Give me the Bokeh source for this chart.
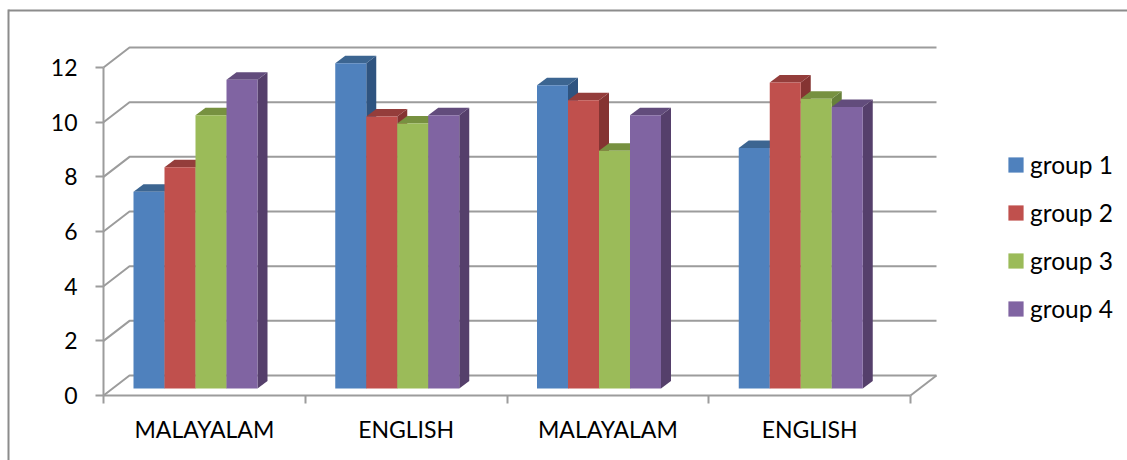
import numpy as np
from bokeh.embed import file_html
from bokeh.resources import INLINE
from bokeh.models import BoxAnnotation, FixedTicker, Legend, LegendItem, Range1d
from bokeh.plotting import figure

categories = ["MALAYALAM", "ENGLISH", "MALAYALAM", "ENGLISH"]
series_names = ["group 1", "group 2", "group 3", "group 4"]
group_1 = [7.2, 11.9, 11.1, 8.8]
group_2 = [8.1, 9.95, 10.55, 11.2]
group_3 = [10.0, 9.7, 8.7, 10.6]
group_4 = [11.3, 10.0, 10.0, 10.3]
series_values = [group_1, group_2, group_3, group_4]
y_ticks = [0, 2, 4, 6, 8, 10, 12]

front_colors = ["#4F81BD", "#C0504D", "#9BBB59", "#8064A2"]
top_colors = ["#3C6591", "#943D3B", "#779140", "#624C7C"]
side_colors = ["#2F5480", "#853432", "#67803A", "#553F6B"]

GRID = "#9C9C9C"
FRAME = "#8C8C8C"
FONT = "Lato"

# Pixel scale of the plot area: one category and one value unit
CAT_PX = 201.75
VAL_PX = 27.33

# Oblique projection used to fake the 3D look
wall_dx, wall_dy = 26 / CAT_PX, 20 / VAL_PX
bar_dx, bar_dy = 10 / CAT_PX, 7.5 / VAL_PX
bar_base = 7 / VAL_PX
bar_w = 31 / CAT_PX
bar_start = 30 / CAT_PX

LEFT, BOTTOM = 103, 65
WIDTH, HEIGHT = 1127, 460
p = figure(
    width=WIDTH, height=HEIGHT, output_backend="svg", toolbar_location=None,
    x_range=Range1d(-LEFT / CAT_PX, (WIDTH - LEFT) / CAT_PX),
    y_range=Range1d(-BOTTOM / VAL_PX, (HEIGHT - BOTTOM) / VAL_PX),
    min_border_left=0, min_border_bottom=0, min_border_top=0, min_border_right=0,
    outline_line_color=None,
)
p.grid.visible = False

# Back wall gridlines with their slanted run along the side wall
n = len(categories)
wall_xs = [[0, wall_dx, n + wall_dx] for _ in y_ticks]
wall_ys = [[t, t + wall_dy, t + wall_dy] for t in y_ticks]
p.multi_line(wall_xs, wall_ys, line_color=GRID, line_width=2)
p.line([n, n + wall_dx], [0, wall_dy], line_color=GRID, line_width=2)

# Bars: series by series so that each front face overlaps the previous side face
legend_items = []
for s, values in enumerate(series_values):
    left = np.arange(n) + bar_start + s * bar_w
    right = left + bar_w
    tops = bar_base + np.array(values)
    side_x = [[r, r + bar_dx, r + bar_dx, r] for r in right]
    side_y = [[bar_base, bar_base + bar_dy, t + bar_dy, t] for t in tops]
    top_x = [[l, l + bar_dx, r + bar_dx, r] for l, r in zip(left, right)]
    top_y = [[t, t + bar_dy, t + bar_dy, t] for t in tops]
    p.patches(side_x, side_y, fill_color=side_colors[s], line_color=None)
    p.patches(top_x, top_y, fill_color=top_colors[s], line_color=None)
    front = p.quad(left=left, right=right, bottom=bar_base, top=tops,
                   fill_color=front_colors[s], line_color=None)
    legend_items.append(LegendItem(label=series_names[s], renderers=[front]))

# Value axis pinned to the front-left edge of the floor
yax = p.yaxis[0]
yax.fixed_location = 0
yax.bounds = (0, 12)
yax.ticker = FixedTicker(ticks=y_ticks)
yax.axis_line_color = GRID
yax.axis_line_width = 2
yax.major_tick_line_color = GRID
yax.major_tick_line_width = 2
yax.major_tick_in = 0
yax.major_tick_out = 8
yax.minor_tick_line_color = None
yax.major_label_standoff = 18
yax.major_label_text_font = FONT
yax.major_label_text_font_size = "23px"
yax.major_label_text_color = "#000000"

# Category axis: labels sit mid-category, ticks on the category boundaries
xax = p.xaxis[0]
xax.fixed_location = 0
xax.bounds = (0, n)
xax.ticker = FixedTicker(ticks=[i + 0.5 for i in range(n)], minor_ticks=list(range(n + 1)))
xax.major_label_overrides = {i + 0.5: c for i, c in enumerate(categories)}
xax.axis_line_color = GRID
xax.axis_line_width = 2
xax.major_tick_line_color = None
xax.major_tick_out = 0
xax.major_tick_in = 0
xax.minor_tick_line_color = GRID
xax.minor_tick_line_width = 2
xax.minor_tick_out = 8
xax.minor_tick_in = 0
xax.major_label_standoff = 11
xax.major_label_text_font = FONT
xax.major_label_text_font_size = "23px"
xax.major_label_text_color = "#000000"

# The legend draws its swatches at 80% of the glyph box, hence the 19px box
legend = Legend(
    items=legend_items, location=(1006, 137), orientation="vertical",
    background_fill_alpha=0, border_line_color=None, margin=0, padding=0,
    glyph_width=19, glyph_height=19, label_height=24, spacing=19, label_standoff=5,
    label_text_font=FONT, label_text_font_size="24.5px", label_text_color="#000000",
)
p.add_layout(legend, "center")

# Thin frame along the top and left edges of the page
p.add_layout(BoxAnnotation(left=8, right=WIDTH, top=9, bottom=11, left_units="canvas",
                           right_units="canvas", top_units="canvas", bottom_units="canvas",
                           fill_color=FRAME, fill_alpha=1, line_color=None, level="overlay"))
p.add_layout(BoxAnnotation(left=7, right=9, top=9, bottom=HEIGHT, left_units="canvas",
                           right_units="canvas", top_units="canvas", bottom_units="canvas",
                           fill_color=FRAME, fill_alpha=1, line_color=None, level="overlay"))

open("out.html", "w").write(file_html(p, INLINE))
